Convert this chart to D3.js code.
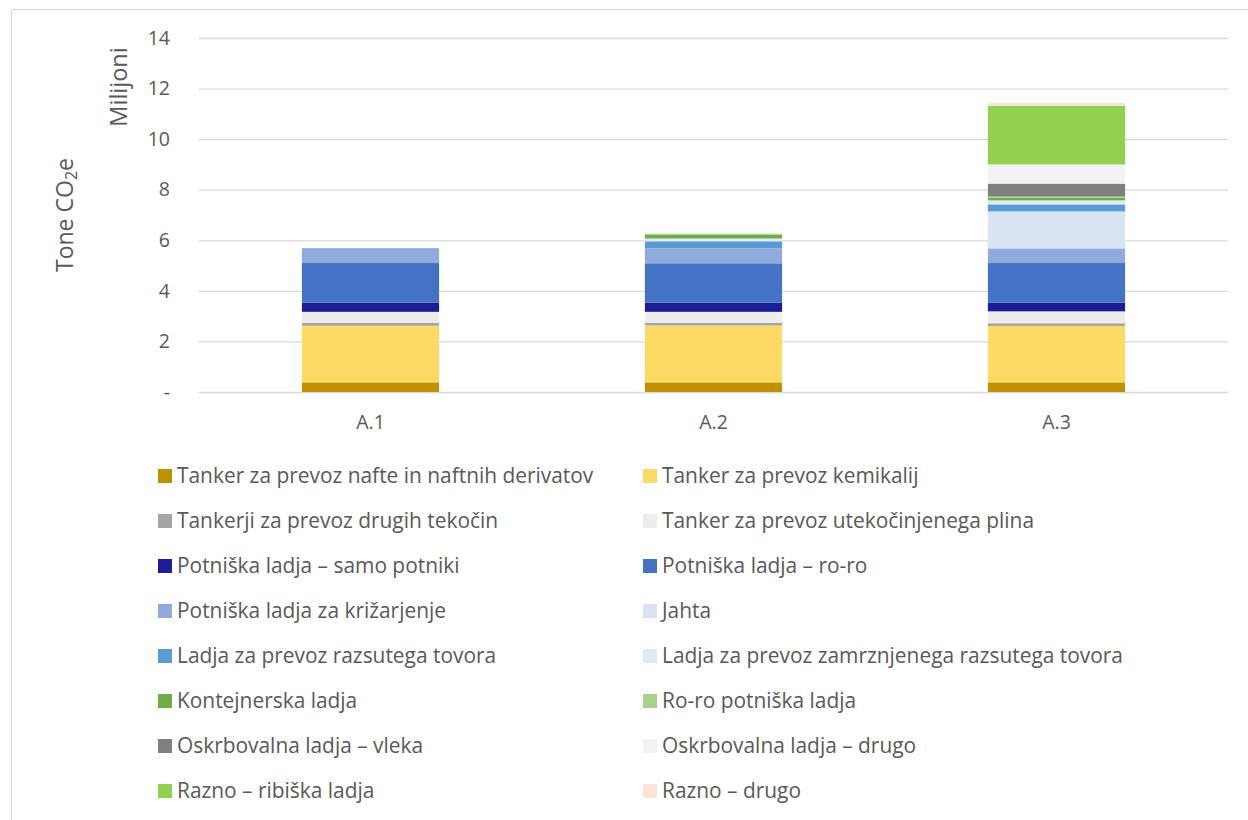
<!DOCTYPE html>
<html><head><meta charset="utf-8">
<script src="https://cdn.jsdelivr.net/npm/d3@7"></script>
<style>body{margin:0;background:#fff}svg{display:block}text{font-family:"Open Sans",sans-serif;fill:#595959}</style>
</head><body><svg id="c" width="1248" height="820"></svg>
<script>
const categories = ["A.1", "A.2", "A.3"];
const seriesNames = [
  "Tanker za prevoz nafte in naftnih derivatov",
  "Tanker za prevoz kemikalij",
  "Tankerji za prevoz drugih tekočin",
  "Tanker za prevoz utekočinjenega plina",
  "Potniška ladja – samo potniki",
  "Potniška ladja – ro-ro",
  "Potniška ladja za križarjenje",
  "Jahta",
  "Ladja za prevoz razsutega tovora",
  "Ladja za prevoz zamrznjenega razsutega tovora",
  "Kontejnerska ladja",
  "Ro-ro potniška ladja",
  "Oskrbovalna ladja – vleka",
  "Oskrbovalna ladja – drugo",
  "Razno – ribiška ladja",
  "Razno – drugo"
];
const seriesColors = ["#BF9000","#FFD966","#A5A5A5","#EDEDED","#1C1C96","#4472C4","#8FAADC","#DAE3F3",
  "#5B9BD5","#DEEBF7","#70AD47","#A9D18E","#7F7F7F","#F2F2F2","#92D050","#FBE5D6"];
// values in millions of tonnes CO2e, one entry per series
const valuesA1 = [0.38, 2.24, 0.11, 0.44, 0.36, 1.57, 0.59, 0, 0, 0, 0, 0, 0, 0, 0, 0];
const valuesA2 = [0.38, 2.25, 0.11, 0.43, 0.36, 1.56, 0.59, 0, 0.28, 0.11, 0.15, 0.04, 0, 0, 0, 0];
const valuesA3 = [0.38, 2.23, 0.11, 0.47, 0.34, 1.57, 0.58, 1.46, 0.28, 0.16, 0.10, 0.05, 0.51, 0.76, 2.32, 0.12];
const yTicks = [0, 2, 4, 6, 8, 10, 12, 14];
const yTickLabels = ["-", "2", "4", "6", "8", "10", "12", "14"];

const svg = d3.select("#c");
const rows = categories.map((c, i) => {
  const vals = [valuesA1, valuesA2, valuesA3][i];
  const o = {cat: c};
  seriesNames.forEach((s, j) => o[s] = vals[j]);
  return o;
});

// border
svg.append("path").attr("d", "M11.5,820 V9.5 H1248").attr("fill", "none").attr("stroke", "#d9d9d9");

const x = d3.scaleBand().domain(categories).range([199, 1228]).paddingInner(0.6).paddingOuter(0.3);
const y = d3.scaleLinear().domain([0, 14]).range([392, 38]);

// gridlines
const yAxis = d3.axisLeft(y).tickValues(yTicks).tickSize(-(1228 - 199)).tickFormat((d, i) => yTickLabels[i]).tickPadding(29);
const ga = svg.append("g").attr("transform", "translate(199,0)").call(yAxis);
ga.select(".domain").remove();
ga.selectAll(".tick line").attr("stroke", "#d9d9d9").attr("stroke-width", 1.3);
ga.selectAll(".tick text").style("font-size", "19.5px").style("fill", "#595959");

const stack = d3.stack().keys(seriesNames);
const layers = stack(rows);
const gb = svg.append("g");
layers.forEach((layer, j) => {
  gb.selectAll(null).data(layer.filter(d => d[1] - d[0] > 0)).join("rect")
    .attr("x", d => x(d.data.cat))
    .attr("width", x.bandwidth())
    .attr("y", d => y(d[1]))
    .attr("height", d => y(d[0]) - y(d[1]))
    .attr("fill", seriesColors[j]);
});

// x axis labels
const xAxis = d3.axisBottom(x).tickSize(0).tickPadding(23);
const gx = svg.append("g").attr("transform", "translate(0,392)").call(xAxis);
gx.select(".domain").remove();
gx.selectAll(".tick text").style("font-size", "19.5px").style("fill", "#595959");

// axis titles
svg.append("text").attr("transform", "translate(127,87) rotate(-90)").attr("text-anchor", "middle")
  .style("font-size", "23.5px").text("Milijoni");
const tt = svg.append("text").attr("transform", "translate(73,215) rotate(-90)").attr("text-anchor", "middle")
  .style("font-size", "23px");
tt.append("tspan").text("Tone CO");
tt.append("tspan").attr("baseline-shift", "-25%").style("font-size", "16px").text("2");
tt.append("tspan").text("e");

// legend
const legCols = [158, 643];
const legY0 = 476, legStep = 45.0;
const lg = svg.append("g");
seriesNames.forEach((s, i) => {
  const col = i % 2, row = Math.floor(i / 2);
  const g = lg.append("g").attr("transform", `translate(${legCols[col]},${legY0 + row * legStep})`);
  g.append("rect").attr("x", 0).attr("y", -7).attr("width", 14).attr("height", 14).attr("fill", seriesColors[i]);
  g.append("text").attr("x", 19).attr("dy", "0.35em").style("font-size", "20.9px").text(s);
});
</script></body></html>
